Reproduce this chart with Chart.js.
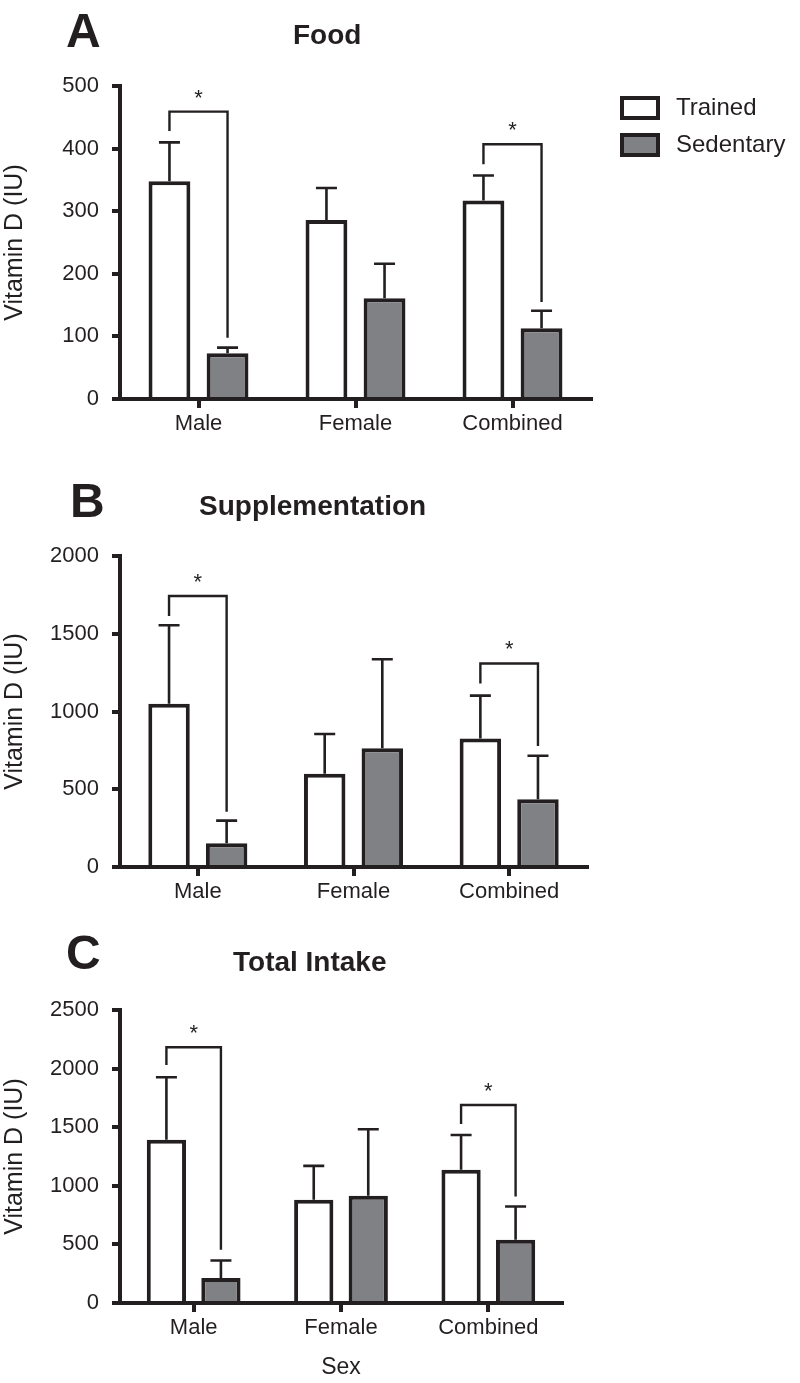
<!DOCTYPE html>
<html><head><meta charset="utf-8">
<script src="https://cdn.jsdelivr.net/npm/chart.js@4/dist/chart.umd.min.js"></script>
<style>
html,body{margin:0;padding:0;background:#fff;}
#wrap{position:relative;width:800px;height:1383px;background:#fff;}
canvas{position:absolute;left:0;}
</style></head><body>
<div id="wrap">
<canvas id="cA" width="800" height="445" style="top:0px"></canvas>
<canvas id="cB" width="800" height="470" style="top:445px"></canvas>
<canvas id="cC" width="800" height="468" style="top:915px"></canvas>
</div>
<script>
// ---------- data ----------
const categories = ['Male', 'Female', 'Combined'];
const seriesNames = ['Trained', 'Sedentary'];

// Panel A: Food
const foodTrained = [348, 286, 317];
const foodTrainedErr = [62, 51, 40];
const foodSedentary = [73, 161, 113];
const foodSedentaryErr = [9, 55, 28];
const foodTicks = [0, 100, 200, 300, 400, 500];

// Panel B: Supplementation
const suppTrained = [1050, 600, 827];
const suppTrainedErr = [505, 255, 275];
const suppSedentary = [152, 763, 435];
const suppSedentaryErr = [146, 573, 280];
const suppTicks = [0, 500, 1000, 1500, 2000];

// Panel C: Total Intake
const totalTrained = [1392, 880, 1136];
const totalTrainedErr = [534, 290, 298];
const totalSedentary = [213, 915, 540];
const totalSedentaryErr = [150, 568, 283];
const totalTicks = [0, 500, 1000, 1500, 2000, 2500];

// significance brackets (category index, bracket top, left leg end, right leg end; data units)
const sigCats = [0, 2];
const foodSigTop = [459, 407], foodSigLeft = [428, 375], foodSigRight = [98, 155];
const suppSigTop = [1743, 1309], suppSigLeft = [1614, 1180], suppSigRight = [355, 778];
const totalSigTop = [2182, 1690], totalSigLeft = [2031, 1528], totalSigRight = [454, 909];

// ---------- style ----------
const INK = '#231f20';
const GRAY = '#808184';
const FONT = '"Liberation Sans", Arial, Helvetica, sans-serif';
Chart.defaults.font.family = FONT;
Chart.defaults.color = INK;

const annot = {
  id: 'annot',
  afterDatasetsDraw(chart, args, opts) {
    const ctx = chart.ctx;
    const y = chart.scales.y;
    ctx.save();
    ctx.strokeStyle = INK;
    ctx.fillStyle = INK;
    ctx.lineWidth = 2.6;
    ctx.lineCap = 'butt';
    // error bars (upper only)
    chart.data.datasets.forEach((ds, di) => {
      const meta = chart.getDatasetMeta(di);
      meta.data.forEach((bar, i) => {
        const top = y.getPixelForValue(ds.data[i] + opts.errors[di][i]);
        ctx.beginPath();
        ctx.moveTo(bar.x, bar.y);
        ctx.lineTo(bar.x, top);
        ctx.moveTo(bar.x - 10.5, top);
        ctx.lineTo(bar.x + 10.5, top);
        ctx.stroke();
      });
    });
    // brackets
    const m0 = chart.getDatasetMeta(0), m1 = chart.getDatasetMeta(1);
    ctx.lineWidth = 2.4;
    ctx.lineJoin = 'miter';
    opts.sig.cats.forEach((c, k) => {
      const xl = m0.data[c].x, xr = m1.data[c].x;
      const yt = y.getPixelForValue(opts.sig.top[k]);
      const yl = y.getPixelForValue(opts.sig.left[k]);
      const yr = y.getPixelForValue(opts.sig.right[k]);
      ctx.beginPath();
      ctx.moveTo(xl, yl); ctx.lineTo(xl, yt); ctx.lineTo(xr, yt); ctx.lineTo(xr, yr);
      ctx.stroke();
      ctx.font = '22px ' + FONT;
      ctx.textAlign = 'center';
      ctx.textBaseline = 'alphabetic';
      ctx.fillText('*', (xl + xr) / 2, yt - 7);
    });
    // panel letter + title
    const h = opts.header;
    ctx.textAlign = 'left';
    ctx.textBaseline = 'alphabetic';
    ctx.font = 'bold 48px ' + FONT;
    ctx.fillText(h.letter, h.lx, h.ly);
    ctx.font = 'bold 28px ' + FONT;
    ctx.fillText(h.title, h.tx, h.ty);
    // legend
    if (opts.legend) {
      const L = opts.legend;
      chart.data.datasets.forEach((ds, di) => {
        const by = L.y + di * L.gap;
        ctx.fillStyle = ds.backgroundColor;
        ctx.fillRect(L.x, by, L.w, L.h);
        ctx.strokeStyle = INK;
        ctx.lineWidth = 4;
        ctx.strokeRect(L.x + 2, by + 2, L.w - 4, L.h - 4);
        ctx.fillStyle = INK;
        ctx.font = '24px ' + FONT;
        ctx.textBaseline = 'middle';
        ctx.fillText(ds.label, L.tx, by + L.h / 2);
      });
    }
    ctx.restore();
  }
};

function makeChart(id, cfg) {
  const tickVals = cfg.ticks;
  return new Chart(document.getElementById(id), {
    type: 'bar',
    data: {
      labels: categories,
      datasets: [
        { label: seriesNames[0], data: cfg.trained, backgroundColor: '#ffffff', borderColor: INK, borderWidth: 4, borderSkipped: 'start' },
        { label: seriesNames[1], data: cfg.sedentary, backgroundColor: GRAY, borderColor: INK, borderWidth: 4, borderSkipped: 'start' }
      ]
    },
    options: {
      responsive: false,
      animation: false,
      events: [],
      categoryPercentage: 0.74,
      barPercentage: 0.72,
      layout: { padding: { top: cfg.padTop, right: cfg.padRight, left: 0, bottom: 0 } },
      plugins: {
        legend: { display: false },
        tooltip: { enabled: false },
        annot: {
          errors: cfg.errors,
          sig: cfg.sig,
          header: cfg.header,
          legend: cfg.legend || null
        }
      },
      scales: {
        x: {
          offset: true,
          grid: { display: true, drawOnChartArea: false, offset: false, tickLength: 9, lineWidth: 4, color: INK },
          border: { display: true, width: 4, color: INK },
          ticks: { font: { size: 22 }, color: INK, padding: 3, maxRotation: 0 },
          title: cfg.xTitle ? { display: true, text: cfg.xTitle, font: { size: 23 }, color: INK, padding: { top: 0, bottom: 2 } } : { display: false },
          afterFit: (s) => { s.height = cfg.xHeight; }
        },
        y: {
          min: tickVals[0],
          max: tickVals[tickVals.length - 1],
          afterBuildTicks: (s) => { s.ticks = tickVals.map(v => ({ value: v })); },
          grid: { display: true, drawOnChartArea: false, tickLength: 8, lineWidth: 4, color: INK },
          border: { display: true, width: 4, color: INK },
          ticks: { font: { size: 22 }, color: INK, padding: 13, callback: (v) => String(v) },
          title: { display: true, text: 'Vitamin D (IU)', font: { size: 25 }, color: INK, padding: 0 },
          afterFit: (s) => { s.width = 120; }
        }
      }
    },
    plugins: [annot]
  });
}

makeChart('cA', {
  trained: foodTrained, sedentary: foodSedentary,
  errors: [foodTrainedErr, foodSedentaryErr],
  ticks: foodTicks,
  sig: { cats: sigCats, top: foodSigTop, left: foodSigLeft, right: foodSigRight },
  header: { letter: 'A', lx: 66, ly: 47, title: 'Food', tx: 293, ty: 44 },
  legend: { x: 620, y: 96, w: 40, h: 24, gap: 37, tx: 676 },
  padTop: 86, padRight: 209, xHeight: 46
});
makeChart('cB', {
  trained: suppTrained, sedentary: suppSedentary,
  errors: [suppTrainedErr, suppSedentaryErr],
  ticks: suppTicks,
  sig: { cats: sigCats, top: suppSigTop, left: suppSigLeft, right: suppSigRight },
  header: { letter: 'B', lx: 70, ly: 72, title: 'Supplementation', tx: 199, ty: 70 },
  padTop: 111, padRight: 213, xHeight: 48
});
makeChart('cC', {
  trained: totalTrained, sedentary: totalSedentary,
  errors: [totalTrainedErr, totalSedentaryErr],
  ticks: totalTicks,
  sig: { cats: sigCats, top: totalSigTop, left: totalSigLeft, right: totalSigRight },
  header: { letter: 'C', lx: 66, ly: 54, title: 'Total Intake', tx: 233, ty: 56 },
  padTop: 95, padRight: 238, xHeight: 80, xTitle: 'Sex'
});
</script>
</body></html>
